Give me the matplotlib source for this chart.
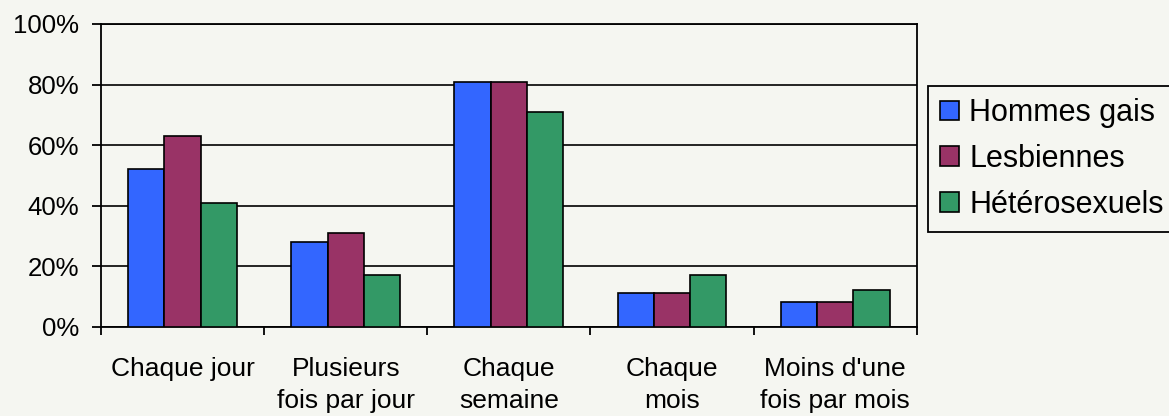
import numpy as np
import matplotlib.pyplot as plt
from matplotlib.ticker import MultipleLocator, FixedLocator, PercentFormatter

plt.rcParams['font.family'] = ['Liberation Sans', 'DejaVu Sans']

categories = ["Chaque jour", "Plusieurs\nfois par jour", "Chaque\nsemaine",
              "Chaque\nmois", "Moins d'une\nfois par mois"]
series = ["Hommes gais", "Lesbiennes", "Hétérosexuels"]
hommes = [52, 28, 81, 11, 8]
lesbiennes = [63, 31, 81, 11, 8]
hetero = [41, 17, 71, 17, 12]
colors = ["#3366FF", "#993366", "#339966"]
bg = "#F5F6F1"

fig = plt.figure(figsize=(11.69, 4.16), dpi=100, facecolor=bg)
ax = fig.add_axes([101 / 1169, 1 - 326.7 / 416, 815.7 / 1169, 302.7 / 416], facecolor=bg)

x = np.arange(len(categories))
w = 1 / 4.5
for i, (name, vals) in enumerate(zip(series, [hommes, lesbiennes, hetero])):
    ax.bar(x + (i - 1) * w, vals, w, color=colors[i], edgecolor="black",
           linewidth=1.2, label=name, zorder=3)

ax.set_xlim(-0.5, len(categories) - 0.5)
ax.set_ylim(0, 100)
ax.yaxis.set_major_locator(MultipleLocator(20))
ax.yaxis.set_major_formatter(PercentFormatter(decimals=0))
ax.grid(axis="y", color="black", linewidth=1.2, zorder=0)

ax.set_xticks(x)
ax.set_xticklabels(categories, fontsize=19, linespacing=1.4)
ax.tick_params(axis="x", which="major", length=0, pad=22)
ax.xaxis.set_minor_locator(FixedLocator(np.arange(-0.5, len(categories), 1.0)))
ax.tick_params(axis="x", which="minor", length=6, width=1.3, color="black")
ax.tick_params(axis="y", length=6.5, width=1.3, labelsize=18.5, pad=9)

for s in ax.spines.values():
    s.set_color("black")
    s.set_linewidth(1.3)

leg = ax.legend(loc="upper left", bbox_to_anchor=(928 / 1169, 1 - 86 / 416),
                bbox_transform=fig.transFigure, fontsize=22, frameon=True,
                fancybox=False, edgecolor="black", facecolor=bg, framealpha=1,
                handlelength=0.62, handleheight=0.62, handletextpad=0.33,
                labelspacing=0.52, borderpad=0.4, borderaxespad=0)
leg.get_frame().set_linewidth(1.3)

fig.savefig("out.png", dpi=100, facecolor=bg)
